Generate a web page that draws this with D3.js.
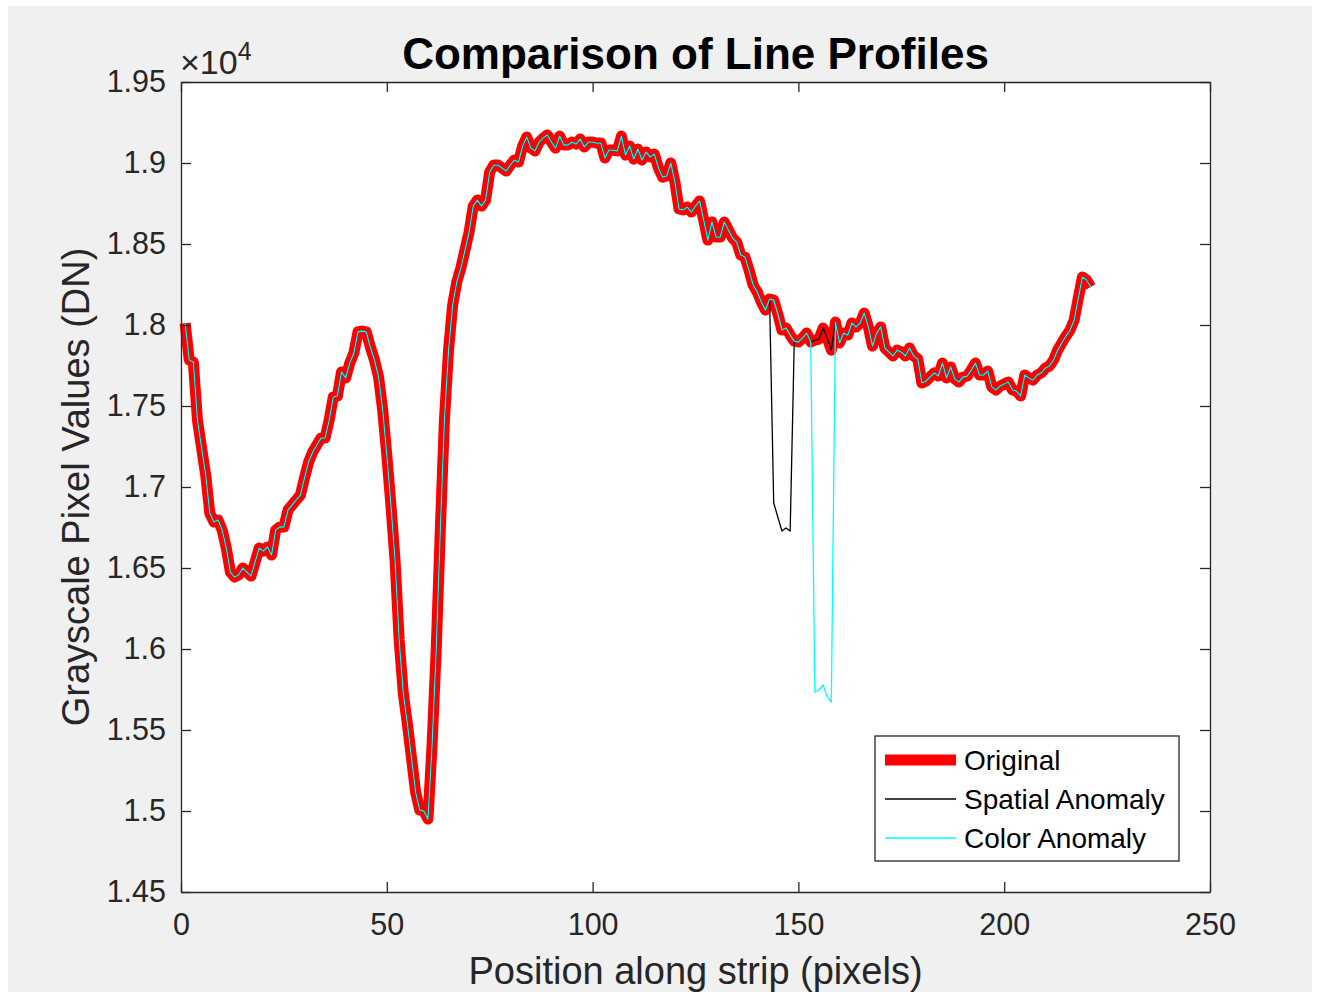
<!DOCTYPE html>
<html>
<head>
<meta charset="utf-8">
<script src="https://cdn.jsdelivr.net/npm/d3@7"></script>
<style>
  html, body { margin: 0; padding: 0; background: #ffffff; }
  svg { display: block; }
  text { font-family: "Liberation Sans", Arial, Helvetica, sans-serif; }
</style>
</head>
<body>
<svg id="fig" width="1318" height="997"></svg>
<script>
// Axis ticks
const xTicks = [0, 50, 100, 150, 200, 250];
const yTicks = [14500, 15000, 15500, 16000, 16500, 17000, 17500, 18000, 18500, 19000, 19500];
const yTickLabels = ["1.45", "1.5", "1.55", "1.6", "1.65", "1.7", "1.75", "1.8", "1.85", "1.9", "1.95"];

// Grayscale profile along the strip, pixel 1..221 (DN)
const original = [
  18012, 17784, 17771, 17413, 17241, 17074, 16839, 16784, 16796, 16734,
  16623, 16475, 16444, 16457, 16500, 16475, 16450, 16537, 16623, 16605,
  16630, 16580, 16734, 16753, 16753, 16858, 16889, 16920, 16950, 17055,
  17154, 17216, 17259, 17302, 17302, 17413, 17555, 17562, 17710, 17673,
  17765, 17827, 17957, 17963, 17957, 17864, 17784, 17679, 17475, 17197,
  16889, 16549, 16055, 15728, 15537, 15327, 15117, 15006, 15000, 14950,
  15407, 15994, 16734, 17413, 17845, 18123, 18265, 18352, 18463, 18574,
  18734, 18771, 18734, 18771, 18944, 18987, 18987, 18969, 18950, 18987,
  19018, 19006, 19105, 19160, 19092, 19074, 19129, 19154, 19173, 19129,
  19092, 19166, 19111, 19111, 19129, 19117, 19148, 19099, 19129, 19129,
  19123, 19123, 19031, 19080, 19080, 19074, 19166, 19049, 19105, 19024,
  19086, 19018, 19068, 19037, 19055, 18969, 18913, 18920, 19000, 18882,
  18716, 18710, 18728, 18697, 18734, 18765, 18648, 18524, 18636, 18543,
  18543, 18636, 18586, 18537, 18512, 18432, 18420, 18339, 18247, 18204,
  18142, 18092, 18160, 18154, 18068, 17969, 17981, 17938, 17901, 17895,
  17920, 17950, 17895, 17907, 17913, 17981, 17920, 17845, 18018, 17889,
  17950, 17938, 18012, 17988, 18012, 18074, 17988, 17870, 17950, 17988,
  17858, 17833, 17809, 17845, 17833, 17809, 17858, 17809, 17790, 17642,
  17654, 17679, 17704, 17685, 17765, 17673, 17741, 17667, 17648, 17679,
  17685, 17722, 17765, 17691, 17691, 17716, 17617, 17599, 17623, 17636,
  17648, 17599, 17592, 17562, 17691, 17673, 17660, 17691, 17704, 17734,
  17747, 17784, 17845, 17889, 17932, 17969, 18031, 18166, 18296, 18278, 18234
];

// Pixels replaced by the spatial anomaly
const spatialPos = [144, 145, 146, 147, 148];
const spatialVals = [16901, 16815, 16728, 16747, 16728];

// Pixels replaced by the colour anomaly
const colorPos = [154, 155, 156, 157, 158];
const colorVals = [15734, 15747, 15778, 15704, 15673];

const legendLabels = ["Original", "Spatial Anomaly", "Color Anomaly"];

// Build the three profiles as [position, value] pairs
const basePts = original.map((v, i) => [i + 1, v]);
function withPatch(pos, vals) {
  const m = new Map(pos.map((p, i) => [p, vals[i]]));
  return basePts.map(([p, v]) => [p, m.has(p) ? m.get(p) : v]);
}
const spatialPts = withPatch(spatialPos, spatialVals);
const colorPts = withPatch(colorPos, colorVals);

const svg = d3.select("#fig");
const axisColor = "#262626";

// Figure background
svg.append("rect").attr("x", 8).attr("y", 6).attr("width", 1304).attr("height", 986).attr("fill", "#f0f0f0");

const L = 181, R = 1210, T = 82, B = 892;
const x = d3.scaleLinear().domain([0, 250]).range([L, R]);
const y = d3.scaleLinear().domain([14500, 19500]).range([B, T]);

// Plot area
svg.append("rect").attr("x", L).attr("y", T).attr("width", R - L).attr("height", B - T).attr("fill", "#ffffff");

const line = d3.line().x(d => x(d[0])).y(d => y(d[1]));

svg.append("path").datum(basePts).attr("d", line)
  .attr("fill", "none").attr("stroke", "#ff0000").attr("stroke-width", 11)
  .attr("stroke-linejoin", "round").attr("stroke-linecap", "butt");
svg.append("path").datum(spatialPts).attr("d", line)
  .attr("fill", "none").attr("stroke", "#000000").attr("stroke-width", 1.3)
  .attr("stroke-linejoin", "round");
svg.append("path").datum(colorPts).attr("d", line)
  .attr("fill", "none").attr("stroke", "#00ffff").attr("stroke-width", 1.3)
  .attr("stroke-linejoin", "round");

// Axes with inward ticks on all four sides
const tickLen = 10;
const fmtY = d => yTickLabels[yTicks.indexOf(d)];
const axB = d3.axisBottom(x).tickValues(xTicks).tickSizeInner(-tickLen).tickSizeOuter(0).tickPadding(21);
const axT = d3.axisTop(x).tickValues(xTicks).tickSizeInner(-tickLen).tickSizeOuter(0).tickFormat("");
const axLf = d3.axisLeft(y).tickValues(yTicks).tickSizeInner(-tickLen).tickSizeOuter(0).tickPadding(15).tickFormat(fmtY);
const axRt = d3.axisRight(y).tickValues(yTicks).tickSizeInner(-tickLen).tickSizeOuter(0).tickFormat("");

function styleAxis(g) {
  g.select(".domain").attr("stroke", axisColor).attr("stroke-width", 1.3);
  g.selectAll(".tick line").attr("stroke", axisColor).attr("stroke-width", 1.3);
  g.selectAll(".tick text").attr("fill", axisColor)
    .style("font-family", '"Liberation Sans", Arial, sans-serif').style("font-size", "30.5px");
}
svg.append("g").attr("transform", `translate(0,${B})`).call(axB).call(styleAxis);
svg.append("g").attr("transform", `translate(0,${T})`).call(axT).call(styleAxis);
svg.append("g").attr("transform", `translate(${L},0)`).call(axLf).call(styleAxis);
svg.append("g").attr("transform", `translate(${R},0)`).call(axRt).call(styleAxis);

// Exponent marker
const ex = svg.append("text").attr("x", 180).attr("y", 74).attr("fill", axisColor).style("font-size", "34px");
ex.append("tspan").style("font-weight", "300").text("\u00d710");
ex.append("tspan").attr("dy", -14).style("font-size", "25px").text("4");

// Title and axis labels
svg.append("text").attr("x", (L + R) / 2).attr("y", 69).attr("text-anchor", "middle")
  .style("font-size", "44px").style("font-weight", "bold").attr("fill", "#000")
  .text("Comparison of Line Profiles");
svg.append("text").attr("x", (L + R) / 2).attr("y", 984).attr("text-anchor", "middle")
  .style("font-size", "38px").attr("fill", axisColor)
  .text("Position along strip (pixels)");
svg.append("text").attr("transform", `translate(89,${(T + B) / 2}) rotate(-90)`).attr("text-anchor", "middle")
  .style("font-size", "38px").attr("fill", axisColor)
  .text("Grayscale Pixel Values (DN)");

// Legend
const lg = svg.append("g");
lg.append("rect").attr("x", 875).attr("y", 736).attr("width", 304).attr("height", 125)
  .attr("fill", "#ffffff").attr("stroke", axisColor).attr("stroke-width", 1.3);
const lgStyles = [["#ff0000", 11], ["#000000", 1.3], ["#00ffff", 1.3]];
legendLabels.forEach((lab, i) => {
  const cy = 760 + i * 39;
  lg.append("line").attr("x1", 885).attr("x2", 956).attr("y1", cy).attr("y2", cy)
    .attr("stroke", lgStyles[i][0]).attr("stroke-width", lgStyles[i][1]);
  lg.append("text").attr("x", 964).attr("y", cy).attr("dy", "0.35em")
    .style("font-size", "28px").attr("fill", "#000").text(lab);
});
</script>
</body>
</html>
